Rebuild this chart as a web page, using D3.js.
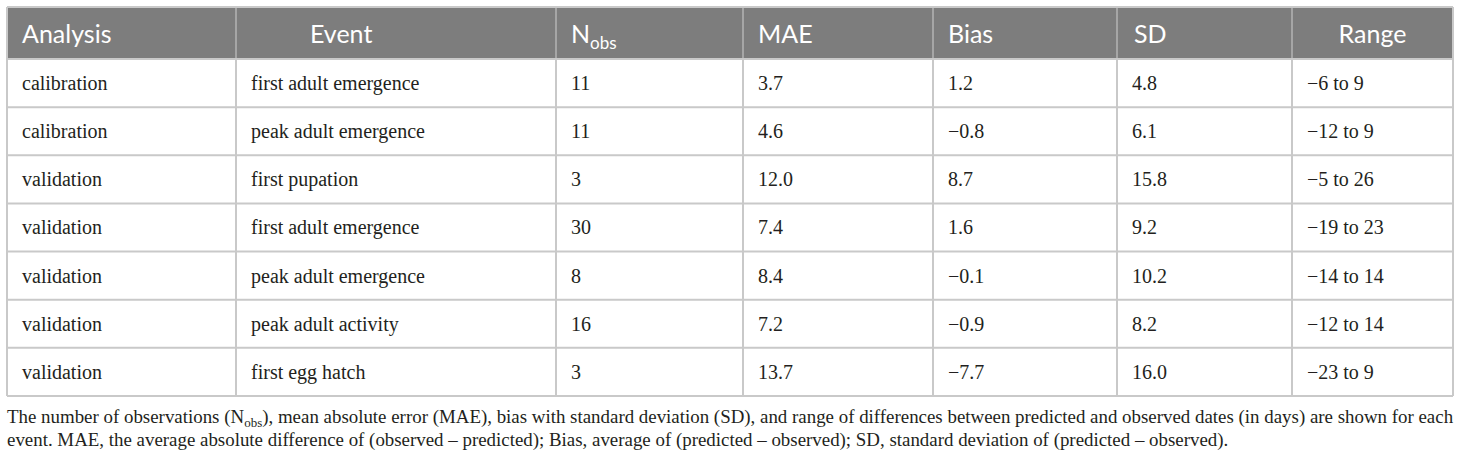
<!DOCTYPE html>
<html>
<head>
<meta charset="utf-8">
<script src="https://cdn.jsdelivr.net/npm/d3@7"></script>
<style>
  body { margin: 0; background: #fff; }
  .head text { font-family: Lato, "Noto Sans", sans-serif; font-size: 25px; fill: #fff; }
  .cell text { font-family: "Liberation Serif", "Times New Roman", serif; font-size: 20px; fill: #231f20; }
  .note { font-family: "Liberation Serif", "Times New Roman", serif; font-size: 18.9px; fill: #231f20; }
</style>
</head>
<body>
<div id="chart"></div>
<script>
// table values
const headers = ['Analysis', 'Event', 'N', 'MAE', 'Bias', 'SD', 'Range'];
const analysis = ['calibration', 'calibration', 'validation', 'validation', 'validation', 'validation', 'validation'];
const events = ['first adult emergence', 'peak adult emergence', 'first pupation', 'first adult emergence',
  'peak adult emergence', 'peak adult activity', 'first egg hatch'];
const nObs = [11, 11, 3, 30, 8, 16, 3];
const mae = ['3.7', '4.6', '12.0', '7.4', '8.4', '7.2', '13.7'];
const bias = ['1.2', '\u22120.8', '8.7', '1.6', '\u22120.1', '\u22120.9', '\u22127.7'];
const sd = ['4.8', '6.1', '15.8', '9.2', '10.2', '8.2', '16.0'];
const range = ['\u22126 to 9', '\u221212 to 9', '\u22125 to 26', '\u221219 to 23', '\u221214 to 14', '\u221212 to 14', '\u221223 to 9'];

const rows = analysis.map((a, i) => [a, events[i], nObs[i], mae[i], bias[i], sd[i], range[i]]);

const width = 1460;
const height = 459;

// column edges (left of each column + right border)
const edges = [7, 236, 556, 743, 933, 1117, 1292, 1453];
const colX = d3.scaleOrdinal().domain(d3.range(headers.length)).range(edges.slice(0, -1));
const colW = i => edges[i + 1] - edges[i];

const headTop = 7, headBottom = 59, tableBottom = 396;
const yScale = d3.scaleBand().domain(d3.range(rows.length)).range([headBottom, tableBottom]);

const svg = d3.select('#chart')
  .append('svg')
  .attr('width', width)
  .attr('height', height);

// header band
svg.append('rect')
  .attr('x', edges[0]).attr('y', headTop)
  .attr('width', edges[edges.length - 1] - edges[0])
  .attr('height', headBottom - headTop)
  .attr('fill', '#7d7d7d');

// grid lines
const grid = svg.append('g').attr('stroke', '#c9c9c9').attr('stroke-width', 2);
// horizontal
const hLines = [headTop, ...yScale.domain().map(d => yScale(d)), tableBottom];
grid.selectAll('line.h')
  .data(hLines)
  .join('line')
  .attr('class', 'h')
  .attr('x1', edges[0]).attr('x2', edges[edges.length - 1])
  .attr('y1', d => d).attr('y2', d => d);
// vertical: outer borders and inner dividers
grid.selectAll('line.v')
  .data(edges)
  .join('line')
  .attr('class', 'v')
  .attr('x1', d => d).attr('x2', d => d)
  .attr('y1', headTop).attr('y2', tableBottom);
// header dividers a touch lighter over the grey band
svg.append('g').attr('stroke', '#9a9a9a').attr('stroke-width', 1.5)
  .selectAll('line')
  .data(edges.slice(1, -1))
  .join('line')
  .attr('x1', d => d).attr('x2', d => d)
  .attr('y1', headTop + 1).attr('y2', headBottom - 1);

// header text
const headOffset = [15, 74, 15, 15, 15, 17, null];
const head = svg.append('g').attr('class', 'head');
headers.forEach((h, i) => {
  const t = head.append('text').attr('y', headTop + 36);
  if (i === headers.length - 1) {
    t.attr('x', colX(i) + colW(i) / 2).attr('text-anchor', 'middle').text(h);
  } else {
    t.attr('x', colX(i) + headOffset[i]).text(h);
  }
  if (h === 'N') {
    t.append('tspan').attr('font-size', '17px').attr('dy', 6).text('obs');
  }
});

// body cells
const body = svg.append('g').attr('class', 'cell');
body.selectAll('g')
  .data(rows)
  .join('g')
  .attr('transform', (d, i) => `translate(0, ${yScale(i)})`)
  .selectAll('text')
  .data(d => d)
  .join('text')
  .attr('x', (d, i) => colX(i) + 15)
  .attr('y', 31)
  .text(d => d);

// footnote
const note = svg.append('g');
const line1 = note.append('text').attr('class', 'note').attr('x', 7).attr('y', 423);
line1.append('tspan').text('The number of observations (N');
line1.append('tspan').attr('font-size', '13px').attr('dy', 4).text('obs');
line1.append('tspan').attr('dy', -4).text('), mean absolute error (MAE), bias with standard deviation (SD), and range of differences between predicted and observed dates (in days) are shown for each');
note.append('text').attr('class', 'note').attr('x', 7).attr('y', 446)
  .text('event. MAE, the average absolute difference of (observed \u2013 predicted); Bias, average of (predicted \u2013 observed); SD, standard deviation of (predicted \u2013 observed).');
</script>
</body>
</html>
